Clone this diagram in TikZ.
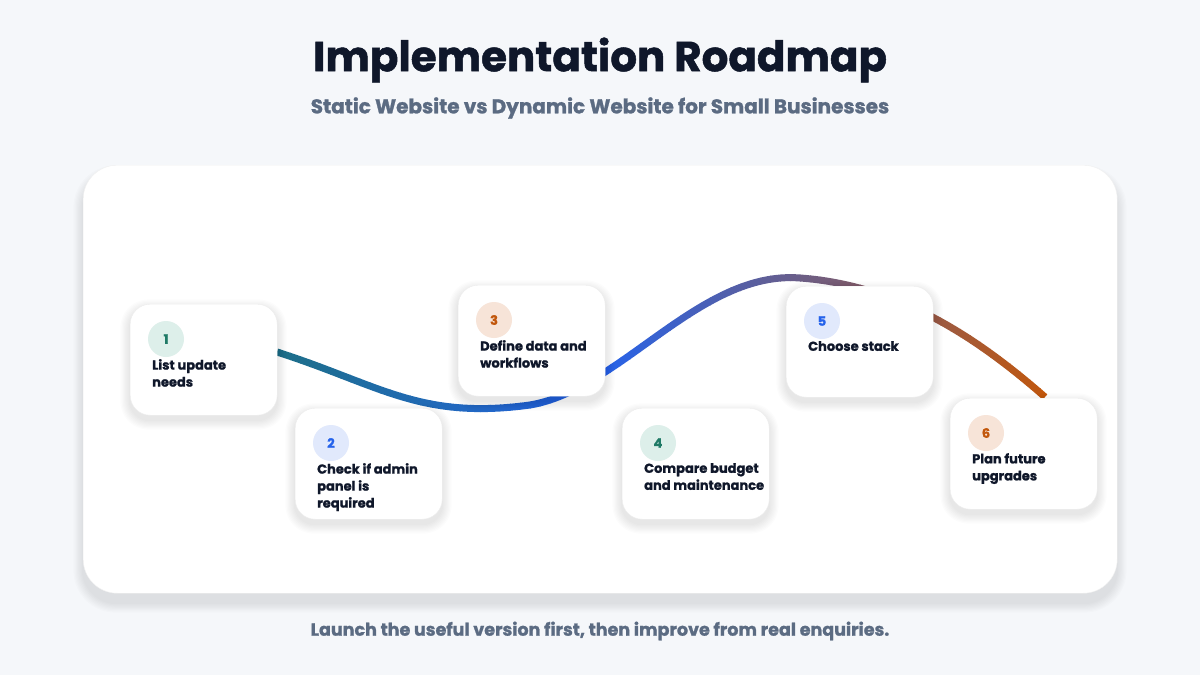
\documentclass[tikz,border=0pt]{standalone}
\usepackage{fontspec}
\setmainfont{Poppins}[BoldFeatures={FakeBold=1.2}]
\definecolor{bgc}{HTML}{F5F7FA}
\definecolor{navy}{HTML}{0F172A}
\definecolor{sub}{HTML}{5B6B82}
\definecolor{cteal}{HTML}{1D6F88}
\definecolor{cblue}{HTML}{2563EB}
\definecolor{corange}{HTML}{C2570C}
\definecolor{nteal}{HTML}{1F7A66}
\definecolor{bteal}{HTML}{DDEFEA}
\definecolor{bblue}{HTML}{E1E9FC}
\definecolor{borange}{HTML}{F7E4D8}
\tikzset{
 card/.style={draw=black!7,fill=white,rounded corners=20pt,minimum width=147pt,minimum height=111pt,anchor=north west},
 num/.style={circle,minimum size=36pt,inner sep=0pt,font=\fontsize{13}{13}\selectfont\bfseries},
 lbl/.style={anchor=north west,align=left,inner sep=0pt,text=navy,font=\fontsize{13}{17}\selectfont\bfseries}
}
\newcommand\softshadow[5]{% x y w h r
  \foreach \k in {1,...,8}{
    \fill[black,opacity=0.012,rounded corners=#5+\k]
      (#1-\k*1.2,#2-\k*1.2+5) rectangle (#1+#3+\k*1.2,#2+#4+\k*1.2+5);
  }}
\begin{document}
\begin{tikzpicture}[x=1pt,y=-1pt]
\useasboundingbox (0,0) rectangle (1200,675);
\fill[bgc] (0,0) rectangle (1200,675);
\node[font=\fontsize{42}{44}\selectfont\bfseries,text=navy] (title) at (600,60) {Implementation Roadmap};
\node[font=\fontsize{20}{22}\selectfont\bfseries,text=sub] (subt) at (600,108) {Static Website vs Dynamic Website for Small Businesses};
\softshadow{83}{170}{1034}{428}{34}
\node[fill=white,draw=black!6,rounded corners=34pt,minimum width=1034pt,minimum height=428pt,anchor=north west] (panel) at (83,165) {};
\node[font=\fontsize{17.5}{19}\selectfont\bfseries,text=sub] (foot) at (600,631) {Launch the useful version first, then improve from real enquiries.};
% curve
\foreach \i in {0,...,79}{
  \pgfmathsetmacro\xa{270+\i*10}
  \pgfmathsetmacro\xb{\xa+10.5}
  \pgfmathsetmacro\xm{\xa+5}
  \ifdim \xm pt<600pt
    \pgfmathtruncatemacro\p{max(0,(\xm-277)/3.23)}
    \colorlet{cc}{cblue!\p!cteal}
  \else
    \pgfmathtruncatemacro\p{min(100,(\xm-600)/4.45)}
    \colorlet{cc}{corange!\p!cblue}
  \fi
  \begin{scope}
    \clip (\xa,200) rectangle (\xb,460);
    \draw[cc,line width=7pt] (277,352) .. controls (380,385) and (420,420) .. (530,405) .. controls (620,390) and (700,270) .. (800,278) .. controls (900,285) and (980,340) .. (1045,397);
  \end{scope}
}
\foreach \n/\cx/\cy/\fg/\bg/\txt in {
 1/130/304/nteal/bteal/{List update\\needs},
 2/295/408/cblue/bblue/{Check if admin\\panel is\\required},
 3/458/285/corange/borange/{Define data and\\workflows},
 4/622/408/nteal/bteal/{Compare budget\\and maintenance},
 5/786/286/cblue/bblue/{Choose stack},
 6/950/398/corange/borange/{Plan future\\upgrades}}{
  \softshadow{\cx}{\cy}{147}{111}{20}
  \node[card] (c\n) at (\cx,\cy) {};
  \node[num,fill=\bg,text=\fg] (n\n) at (\cx+36,\cy+35) {\n};
  \node[lbl] (t\n) at (\cx+22,\cy+55) {\txt};
}
\end{tikzpicture}
\end{document}
